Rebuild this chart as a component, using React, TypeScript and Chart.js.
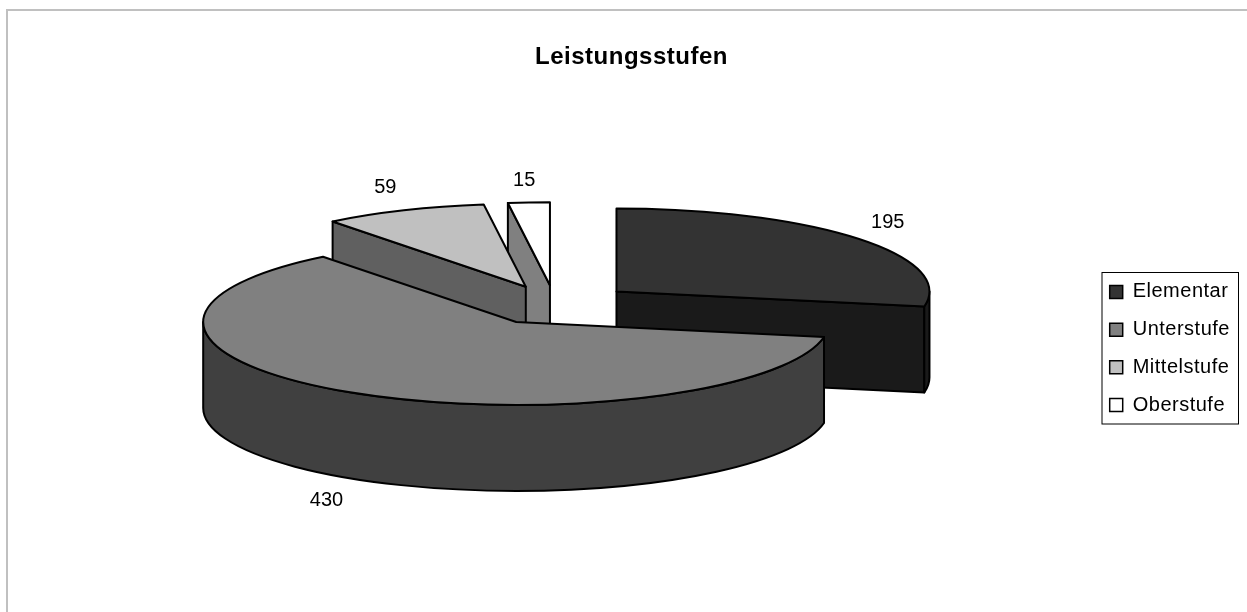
import React, { useEffect, useRef } from "react";
import { Chart, registerables } from "chart.js";

Chart.register(...registerables);

const chartTitle = "Leistungsstufen";
const categories = ["Elementar", "Unterstufe", "Mittelstufe", "Oberstufe"];
const values = [195, 430, 59, 15];
const topColors = ["#333333", "#808080", "#c0c0c0", "#ffffff"];
const wallColors = ["#1a1a1a", "#404040", "#606060", "#808080"];
const explodeOffsets = [80, 75, 75, 75];
const labelShiftX = [0, -7, -3, -2];
const labelShiftY = [0, 0, 0, 3];

const FONT = "'Liberation Sans', Arial, sans-serif";
const PIE_CX = 555;
const PIE_CY = 305;
const RADIUS = 313;
const SQUASH = 0.265;
const DEPTH = 86;

const pie3d = {
  id: "pie3d",
  beforeDraw(chart: any) {
    const { ctx, width, height } = chart;
    ctx.save();
    ctx.fillStyle = "#c0c0c0";
    ctx.fillRect(6, 9, width - 6, 2);
    ctx.fillRect(6, 9, 2, height - 9);
    ctx.restore();
    ctx.letterSpacing = "0.5px";
  },
  afterLayout(chart: any) {
    const area = chart.chartArea;
    const half = 260;
    area.left = PIE_CX - half;
    area.right = PIE_CX + half;
    area.top = PIE_CY - half;
    area.bottom = PIE_CY + half;
    area.width = area.height = half * 2;
    const lg = chart.legend;
    const h = lg.bottom - lg.top;
    const w = lg.right - lg.left;
    lg.left = 1092;
    lg.right = 1092 + w;
    lg.top = 348.5 - h / 2;
    lg.bottom = 348.5 + h / 2;
  },
  beforeDatasetDraw(chart: any, args: any) {
    const { ctx } = chart;
    ctx.letterSpacing = "0px";
    const arcs = chart.getDatasetMeta(args.index).data as any[];
    const slices = arcs.map((arc, i) => {
      const mid = (arc.startAngle + arc.endAngle) / 2;
      const off = (arc.options.offset || 0) / 4;
      return {
        i,
        mid,
        s: arc.startAngle,
        e: arc.endAngle,
        r: arc.outerRadius,
        cx: arc.x + Math.cos(mid) * off,
        cy: arc.y + Math.sin(mid) * off * SQUASH,
      };
    });
    const order = [...slices].sort((a, b) => Math.sin(a.mid) - Math.sin(b.mid));
    ctx.save();
    ctx.strokeStyle = "#000";
    ctx.lineWidth = 2;
    ctx.lineJoin = "round";
    for (const p of order) {
      const px = (t: number) => p.cx + p.r * Math.cos(t);
      const py = (t: number) => p.cy + p.r * SQUASH * Math.sin(t);
      const face = (t: number) => {
        ctx.beginPath();
        ctx.moveTo(p.cx, p.cy);
        ctx.lineTo(px(t), py(t));
        ctx.lineTo(px(t), py(t) + DEPTH);
        ctx.lineTo(p.cx, p.cy + DEPTH);
        ctx.closePath();
        ctx.fillStyle = wallColors[p.i];
        ctx.fill();
        ctx.stroke();
      };
      if (Math.cos(p.s) < -1e-6) face(p.s);
      if (Math.cos(p.e) > 1e-6) face(p.e);
      const a = Math.max(p.s, 0);
      const b = Math.min(p.e, Math.PI);
      if (b > a) {
        ctx.beginPath();
        ctx.ellipse(p.cx, p.cy, p.r, p.r * SQUASH, 0, a, b);
        ctx.ellipse(p.cx, p.cy + DEPTH, p.r, p.r * SQUASH, 0, b, a, true);
        ctx.closePath();
        ctx.fillStyle = wallColors[p.i];
        ctx.fill();
        ctx.stroke();
      }
      ctx.beginPath();
      ctx.moveTo(p.cx, p.cy);
      ctx.ellipse(p.cx, p.cy, p.r, p.r * SQUASH, 0, p.s, p.e);
      ctx.closePath();
      ctx.fillStyle = topColors[p.i];
      ctx.fill();
      ctx.stroke();
    }
    ctx.fillStyle = "#000";
    ctx.font = `20px ${FONT}`;
    ctx.textAlign = "center";
    ctx.textBaseline = "middle";
    for (const p of slices) {
      const c = Math.cos(p.mid);
      const s = Math.sin(p.mid);
      const x = p.cx + p.r * c + c * 40 + labelShiftX[p.i];
      const y = p.cy + p.r * SQUASH * s + (s > 0.5 ? DEPTH : 0) + s * 25 + labelShiftY[p.i];
      ctx.fillText(String(values[p.i]), x, y);
    }
    ctx.restore();
    return false;
  },
  afterDraw(chart: any) {
    const { ctx } = chart;
    ctx.save();
    ctx.strokeStyle = "#000";
    ctx.lineWidth = 1;
    ctx.strokeRect(1102, 272.5, 136.5, 151.5);
    ctx.restore();
  },
};

export default function App() {
  const ref = useRef<HTMLCanvasElement>(null);
  useEffect(() => {
    const chart = new Chart(ref.current as HTMLCanvasElement, {
      type: "pie",
      data: {
        labels: categories,
        datasets: [
          {
            data: values,
            backgroundColor: topColors,
            borderColor: "#000",
            borderWidth: 1.5,
            offset: explodeOffsets.map((d) => d * 4),
          },
        ],
      },
      options: {
        responsive: false,
        animation: false,
        radius: RADIUS,
        layout: { padding: { left: 16 } },
        plugins: {
          tooltip: { enabled: false },
          title: {
            display: true,
            text: chartTitle,
            color: "#000",
            font: { family: FONT, size: 24, weight: "bold" },
            padding: { top: 43, bottom: 10 },
          },
          legend: {
            position: "right",
            labels: {
              color: "#000",
              boxWidth: 13,
              boxHeight: 13,
              padding: 17.7,
              font: { family: FONT, size: 20 },
            },
          },
        },
      } as any,
      plugins: [pie3d],
    });
    return () => chart.destroy();
  }, []);
  return (
    <div style={{ position: "fixed", left: 0, top: 0 }}>
      <canvas ref={ref} width={1247} height={612} style={{ display: "block" }} />
    </div>
  );
}
